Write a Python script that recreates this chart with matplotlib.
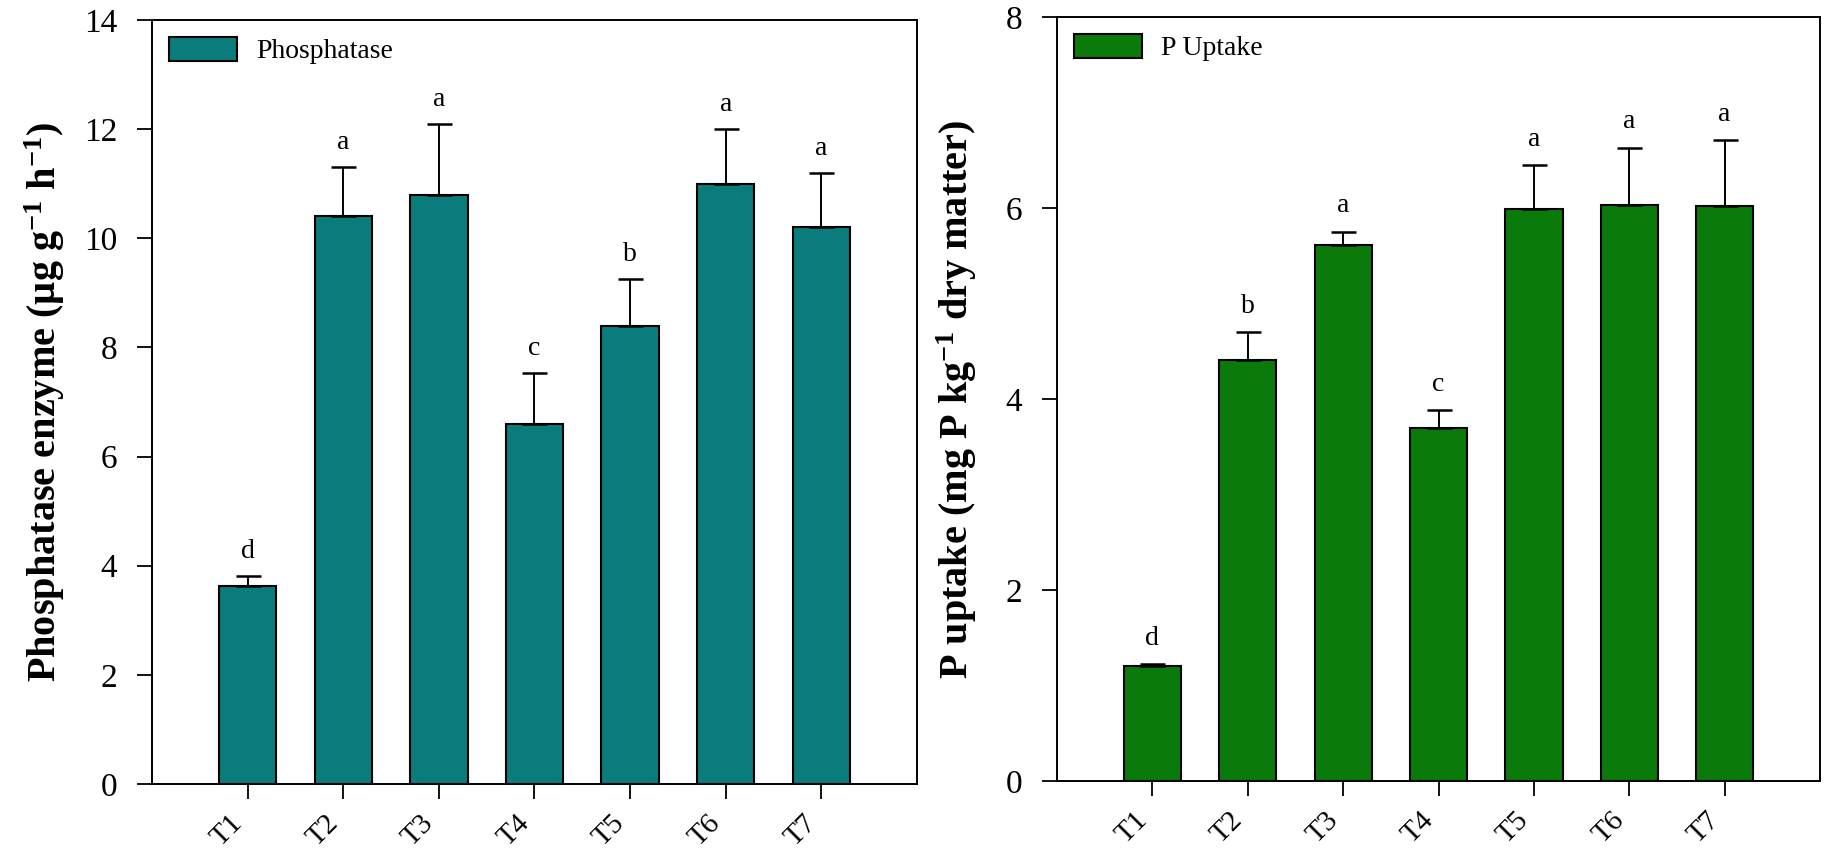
import matplotlib
matplotlib.use("Agg")
import matplotlib.pyplot as plt
import numpy as np

plt.rcParams["font.family"] = ["Liberation Serif", "DejaVu Serif"]
plt.rcParams["mathtext.fontset"] = "custom"
plt.rcParams["mathtext.rm"] = "Liberation Serif"
plt.rcParams["mathtext.bf"] = "Liberation Serif:bold"
plt.rcParams["mathtext.it"] = "Liberation Serif:italic"

# --------------------------------------------------------------------------- #
# Data
# --------------------------------------------------------------------------- #
treatments = ["T1", "T2", "T3", "T4", "T5", "T6", "T7"]

phosphatase = [3.63, 10.41, 10.80, 6.59, 8.39, 11.00, 10.20]
phosphatase_se = [0.19, 0.90, 1.30, 0.94, 0.87, 1.00, 1.00]
phosphatase_letters = ["d", "a", "a", "c", "b", "a", "a"]

p_uptake = [1.20, 4.41, 5.61, 3.70, 5.99, 6.03, 6.02]
p_uptake_se = [0.02, 0.29, 0.14, 0.18, 0.46, 0.60, 0.69]
p_uptake_letters = ["d", "b", "a", "c", "a", "a", "a"]

TEAL = "#0A7C7C"
GREEN = "#0A7B0A"


def _panel(ax, values, errors, letters, color, label, ylabel, ymax, ystep,
           letter_offset, labelpad):
    x = np.arange(1, len(treatments) + 1)
    ax.bar(x, values, width=0.6, color=color, edgecolor="black",
           linewidth=1.5, label=label, zorder=2)
    ax.errorbar(x, values, yerr=[np.zeros(len(errors)), errors], fmt="none",
                ecolor="black", elinewidth=1.4, capsize=9, capthick=1.8,
                zorder=3)
    for xi, v, e, lt in zip(x, values, errors, letters):
        ax.annotate(lt, (xi, v + e), xytext=(0, letter_offset),
                    textcoords="offset points", ha="center", va="baseline",
                    fontsize=20)

    ax.set_xlim(0, 8)
    ax.set_ylim(0, ymax)
    ax.set_xticks(x)
    ax.set_xticklabels(treatments, rotation=45, ha="right", fontsize=21)
    ax.set_yticks(np.arange(0, ymax + 0.01, ystep))
    ax.tick_params(axis="y", labelsize=24, length=11, width=1.3,
                   direction="out", pad=14, right=False)
    ax.tick_params(axis="x", length=11, width=1.3, direction="out", pad=8,
                   top=False)
    for sp in ax.spines.values():
        sp.set_linewidth(1.4)
    ax.set_ylabel(ylabel, fontsize=29, fontweight="bold", labelpad=labelpad)

    ax.legend(loc="upper left", frameon=False, fontsize=20, handlelength=2.45,
              handleheight=0.95, handletextpad=0.7, borderpad=0,
              borderaxespad=0.6)


fig = plt.figure(figsize=(18.31, 8.51), dpi=100)
ax1 = fig.add_axes([0.0830, 0.0787, 0.4178, 0.8978])
ax2 = fig.add_axes([0.5773, 0.0823, 0.4167, 0.8978])

_panel(ax1, phosphatase, phosphatase_se, phosphatase_letters, TEAL,
       "Phosphatase",
       r"Phosphatase enzyme (µg g$^{\mathbf{-1}}$ h$^{\mathbf{-1}}$)",
       14, 2, 13, 12)
_panel(ax2, p_uptake, p_uptake_se, p_uptake_letters, GREEN,
       "P Uptake",
       r"P uptake (mg P kg$^{\mathbf{-1}}$ dry matter)",
       8, 2, 14, 19)

fig.savefig("out.png", dpi=100)
plt.close(fig)
